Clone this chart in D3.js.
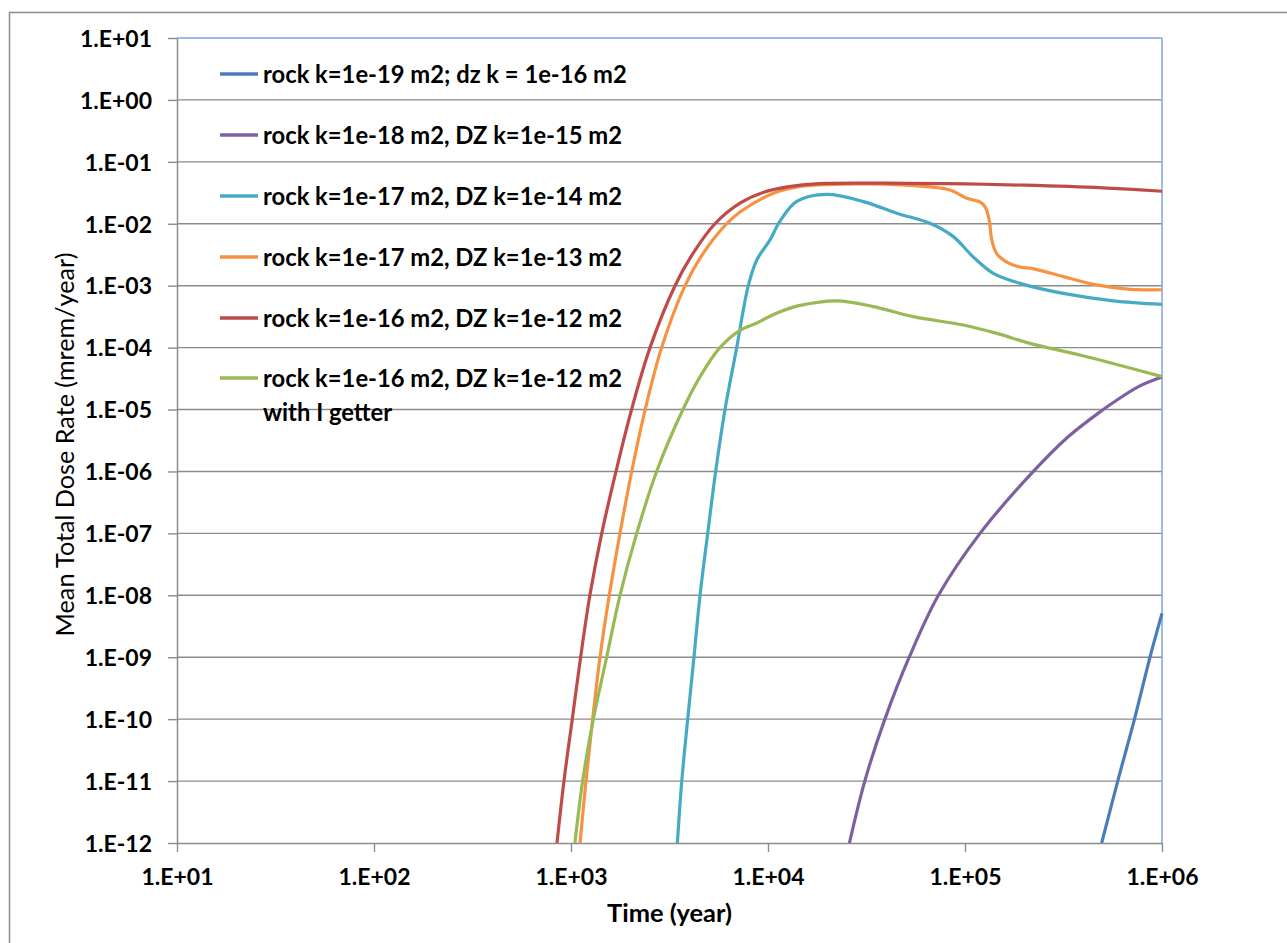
<!DOCTYPE html>
<html><head><meta charset="utf-8">
<script src="https://cdn.jsdelivr.net/npm/d3@7"></script>
<style>
body{margin:0;background:#fff;}
svg{display:block;}
text{font-family:Lato,"Open Sans",sans-serif;fill:#000;}
</style>
</head><body>
<svg id="chart" width="1287" height="943"></svg>
<script>
// ---------- data ----------
const xTicks = [1e1, 1e2, 1e3, 1e4, 1e5, 1e6];
const yTicks = [1e1, 1e0, 1e-1, 1e-2, 1e-3, 1e-4, 1e-5, 1e-6, 1e-7, 1e-8, 1e-9, 1e-10, 1e-11, 1e-12];
const xTitle = "Time (year)";
const yTitle = "Mean Total Dose Rate (mrem/year)";
const seriesNames = [
  "rock k=1e-19 m2; dz k = 1e-16 m2",
  "rock k=1e-18 m2, DZ k=1e-15 m2",
  "rock k=1e-17 m2, DZ k=1e-14 m2",
  "rock k=1e-17 m2, DZ k=1e-13 m2",
  "rock k=1e-16 m2, DZ k=1e-12 m2",
  "rock k=1e-16 m2, DZ k=1e-12 m2\nwith I getter"
];
const seriesColors = ["#4A7EBB", "#7D60A0", "#46AAC5", "#F69240", "#BE4B48", "#98B954"];

const blueTime = [494000, 596000, 725000, 869000, 1000000];
const blueDose = [1e-12, 1e-11, 1e-10, 1e-9, 5.1e-9];

const purpleTime = [25900, 31000, 39200, 52100, 73300, 119200, 222300, 333000, 503000, 566000, 760000, 1000000];
const purpleDose = [1e-12, 1e-11, 1e-10, 1e-9, 1e-8, 1e-7, 1e-6, 3.6e-6, 1e-5, 1.3e-5, 2.35e-5, 3.35e-5];

const tealTime = [3467, 3650, 3912, 4208, 4518, 4942, 5424, 6050, 6935, 7943, 8770, 10240, 11500, 14000, 19860, 30500, 45000, 66400, 87300, 110300, 139300, 190300, 315600, 566000, 1000000];
const tealDose = [1e-12, 1e-11, 1e-10, 1e-9, 1e-8, 1e-7, 1e-6, 1e-5, 1e-4, 1e-3, 2.6e-3, 5.5e-3, 1.1e-2, 2.3e-2, 2.99e-2, 2.28e-2, 1.48e-2, 1.02e-2, 6.2e-3, 2.9e-3, 1.58e-3, 1.09e-3, 7.5e-4, 5.7e-4, 5.0e-4];

const orangeTime = [1111, 1191, 1288, 1403, 1564, 1773, 2033, 2380, 2884, 3793, 4677, 6166, 7210, 10640, 14520, 20000, 50000, 84000, 102000, 119000, 126500, 132700, 136700, 144900, 163000, 190000, 221000, 315600, 466000, 689000, 1000000];
const orangeDose = [1e-12, 1e-11, 1e-10, 1e-9, 1e-8, 1e-7, 1e-6, 1e-5, 1e-4, 1e-3, 3.3e-3, 1e-2, 1.55e-2, 3.1e-2, 4.0e-2, 4.3e-2, 4.2e-2, 3.5e-2, 2.58e-2, 2.25e-2, 1.88e-2, 1.15e-2, 5.5e-3, 3.3e-3, 2.4e-3, 2.0e-3, 1.89e-3, 1.4e-3, 1.03e-3, 8.7e-4, 8.6e-4];

const redTime = [849, 921, 1015, 1119, 1247, 1432, 1692, 2030, 2518, 3373, 4064, 5380, 7210, 10000, 14520, 20000, 50000, 100000, 200000, 500000, 1000000];
const redDose = [1e-12, 1e-11, 1e-10, 1e-9, 1e-8, 1e-7, 1e-6, 1e-5, 1e-4, 1e-3, 2.95e-3, 1e-2, 2.15e-2, 3.4e-2, 4.2e-2, 4.5e-2, 4.5e-2, 4.4e-2, 4.2e-2, 3.8e-2, 3.35e-2];

const greenTime = [1047, 1146, 1298, 1517, 1773, 2155, 2721, 3700, 4520, 5700, 7210, 8790, 10000, 11510, 14520, 22390, 34300, 54700, 98000, 144900, 213800, 383700, 1000000];
const greenDose = [1e-12, 1e-11, 1e-10, 1e-9, 1e-8, 1e-7, 1e-6, 1e-5, 3.4e-5, 1e-4, 1.9e-4, 2.5e-4, 3.1e-4, 3.8e-4, 4.8e-4, 5.7e-4, 4.6e-4, 3.16e-4, 2.32e-4, 1.7e-4, 1.17e-4, 7.6e-5, 3.4e-5];

const seriesTimes = [blueTime, purpleTime, tealTime, orangeTime, redTime, greenTime];
const seriesDoses = [blueDose, purpleDose, tealDose, orangeDose, redDose, greenDose];

// ---------- layout ----------
const L = 177, R = 1162, T = 38, B = 843;
const gridColor = "#8c8c8c";
const borderBlue = "#7FA4D9";

const svg = d3.select("#chart");
const x = d3.scaleLog().domain([1e1, 1e6]).range([L, R]);
const y = d3.scaleLog().domain([1e-12, 1e1]).range([B, T]);

function expFmt(v) {
  const e = Math.round(Math.log10(v));
  const s = e < 0 ? "-" : "+";
  return "1.E" + s + String(Math.abs(e)).padStart(2, "0");
}

function fitSize(str, weight, target) {
  const t = svg.append("text").attr("font-size", 100).attr("font-weight", weight).text(str);
  const w = t.node().getComputedTextLength();
  t.remove();
  return 100 * target / w;
}
const tickSize = fitSize("1.E+03", "bold", 72);
const legendSize = fitSize(seriesNames[0], "bold", 364);
const xTitleSize = fitSize(xTitle, "bold", 125);
const yTitleSize = fitSize(yTitle, "normal", 384);

// outer chart frame
svg.append("line").attr("x1", 9.5).attr("x2", 9.5).attr("y1", 12).attr("y2", 943)
  .attr("stroke", "#8c8c8c").attr("stroke-width", 1.5);
svg.append("line").attr("x1", 9).attr("x2", 1287).attr("y1", 12.5).attr("y2", 12.5)
  .attr("stroke", "#8c8c8c").attr("stroke-width", 1.5);

// gridlines
svg.append("g").selectAll("line").data(yTicks.filter(v => v < 10 && v > 1e-12)).join("line")
  .attr("x1", L).attr("x2", R)
  .attr("y1", d => y(d)).attr("y2", d => y(d))
  .attr("stroke", gridColor).attr("stroke-width", 1.4);

// plot border top/right
svg.append("line").attr("x1", L).attr("x2", R).attr("y1", T).attr("y2", T)
  .attr("stroke", borderBlue).attr("stroke-width", 1.5);
svg.append("line").attr("x1", R).attr("x2", R).attr("y1", T).attr("y2", B)
  .attr("stroke", borderBlue).attr("stroke-width", 1.5);

// axes
const yAxis = svg.append("g").attr("transform", `translate(${L},0)`)
  .call(d3.axisLeft(y).tickValues(yTicks).tickFormat(expFmt).tickSize(9).tickSizeOuter(0));
yAxis.select(".domain").attr("stroke", gridColor).attr("stroke-width", 1.5);
yAxis.selectAll(".tick line").attr("stroke", gridColor).attr("stroke-width", 1.4);
yAxis.selectAll(".tick text").attr("x", -25).attr("dy", "0.36em")
  .attr("font-size", tickSize).attr("font-weight", "bold")
  .attr("font-family", "Lato, 'Open Sans', sans-serif").attr("fill", "#000");

const xAxis = svg.append("g").attr("transform", `translate(0,${B})`)
  .call(d3.axisBottom(x).tickValues(xTicks).tickFormat(expFmt).tickSize(9).tickSizeOuter(0));
xAxis.select(".domain").attr("stroke", gridColor).attr("stroke-width", 1.5);
xAxis.selectAll(".tick line").attr("stroke", gridColor).attr("stroke-width", 1.4);
xAxis.selectAll(".tick text").attr("y", 42).attr("dy", null)
  .attr("font-size", tickSize).attr("font-weight", "bold")
  .attr("font-family", "Lato, 'Open Sans', sans-serif").attr("fill", "#000");

// axis titles
svg.append("text").attr("x", (L + R) / 2).attr("y", 922).attr("text-anchor", "middle")
  .attr("font-size", xTitleSize).attr("font-weight", "bold").text(xTitle);
svg.append("text").attr("transform", `translate(74,${(T + B) / 2 + 4}) rotate(-90)`)
  .attr("text-anchor", "middle").attr("font-size", yTitleSize).attr("font-weight", "normal").text(yTitle);

// curves
svg.append("clipPath").attr("id", "plotclip").append("rect")
  .attr("x", L).attr("y", T - 2).attr("width", R - L + 2).attr("height", B - T + 2);
const line = d3.line().x(d => x(d[0])).y(d => y(d[1])).curve(d3.curveCatmullRom.alpha(0.5));
const curves = svg.append("g").attr("clip-path", "url(#plotclip)");
seriesTimes.forEach((ts, i) => {
  const pts = ts.map((t, j) => [t, seriesDoses[i][j]]);
  curves.append("path").attr("d", line(pts)).attr("fill", "none")
    .attr("stroke", seriesColors[i]).attr("stroke-width", 3.2)
    .attr("stroke-linejoin", "round").attr("stroke-linecap", "butt");
});

// legend
const legendRows = [74, 135, 196, 257, 318, 378];
const lg = svg.append("g");
seriesNames.forEach((name, i) => {
  const cy = legendRows[i];
  lg.append("line").attr("x1", 220).attr("x2", 258).attr("y1", cy).attr("y2", cy)
    .attr("stroke", seriesColors[i]).attr("stroke-width", 3.4);
  const lines = name.split("\n");
  lines.forEach((ln, k) => {
    lg.append("text").attr("x", 263).attr("y", cy + k * 34).attr("dy", "0.36em")
      .attr("font-size", legendSize).attr("font-weight", "bold").text(ln);
  });
});
</script>
</body></html>
